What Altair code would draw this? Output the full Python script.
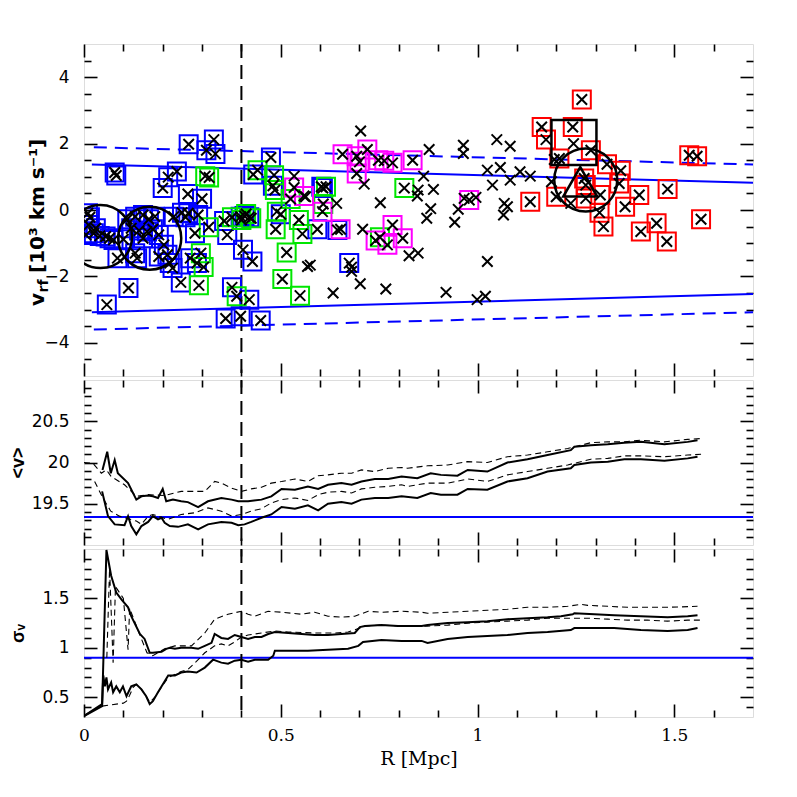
import altair as alt
import pandas as pd

# ---------------- top panel: galaxies (R [Mpc], v_rf [10^3 km/s]) ----------------
blue_pts = [(0.266, 1.98), (0.330, 2.12), (0.311, 1.80), (0.334, 1.69), (0.078, 1.13), (0.082, 1.04),
            (0.236, 1.16), (0.214, 0.99), (0.200, 0.66), (0.264, 0.48), (0.300, 0.34), (0.249, -0.08),
            (0.228, -0.20), (0.258, -0.22), (0.282, -0.70), (0.356, -0.33), (0.364, -0.75), (0.113, -2.35),
            (0.058, -2.85), (0.246, -2.18), (0.376, -2.33), (0.360, -3.27), (0.398, -3.20), (0.420, -2.70),
            (0.449, -3.33), (0.404, -1.20), (0.428, -1.55), (0.475, 1.58), (0.430, 1.07), (0.480, 0.73),
            (0.603, 0.70), (0.607, 0.66), (0.408, -0.18), (0.420, -0.22), (0.398, -0.20), (0.500, -0.13),
            (0.593, -0.58), (0.644, -0.60), (0.674, -1.60), (0.287, -1.60), (0.270, -1.45), (0.010, -0.10),
            (0.015, -0.22), (0.012, -0.45), (0.025, -0.70), (0.040, -0.78), (0.055, -0.80), (0.030, -0.55),
            (0.065, -0.85), (0.075, -0.90), (0.005, -0.75), (0.085, -1.45), (0.110, -0.28), (0.130, -0.20),
            (0.150, -0.15), (0.165, -0.28), (0.180, -0.20), (0.120, -0.55), (0.140, -0.62), (0.160, -0.65),
            (0.175, -0.58), (0.150, -0.85), (0.190, -0.75), (0.130, -1.30), (0.135, -1.45), (0.203, -1.05),
            (0.190, -1.40), (0.212, -1.35), (0.218, -1.60), (0.225, -1.75), (0.100, -0.88), (0.265, -0.10),
            (0.290, -0.15)]
green_pts = [(0.308, 1.02), (0.318, 0.98), (0.441, 1.20), (0.483, 1.05), (0.485, 0.60), (0.615, 0.70),
             (0.608, 0.18), (0.525, 0.33), (0.490, -0.05), (0.546, -0.30), (0.487, -0.58), (0.555, -0.72),
             (0.515, -1.28), (0.504, -2.08), (0.549, -2.58), (0.388, -2.60), (0.292, -2.27), (0.304, -1.72),
             (0.297, -1.30), (0.317, -0.52), (0.376, -0.22), (0.412, -0.12), (0.425, -0.25), (0.752, -0.82),
             (0.814, 0.66), (0.400, -0.30)]
magenta_pts = [(0.657, 1.68), (0.693, 1.62), (0.720, 1.82), (0.693, 1.10), (0.748, 1.50), (0.763, 1.48),
               (0.784, 1.42), (0.835, 1.50), (0.534, 0.68), (0.559, 0.42), (0.606, -0.05), (0.652, -0.58),
               (0.784, -0.45), (0.741, -0.92), (0.771, -1.05), (0.810, -0.85), (0.979, 0.30), (0.700, 1.45)]
red_pts = [(1.163, 2.50), (1.174, 2.12), (1.242, 2.50), (1.265, 3.33), (1.288, 1.80), (1.208, 1.55),
           (1.329, 1.38), (1.364, 1.18), (1.360, 0.80), (1.271, 0.95), (1.275, 0.75), (1.200, 0.40),
           (1.275, 0.35), (1.312, 0.45), (1.310, -0.08), (1.320, -0.50), (1.375, 0.10), (1.411, 0.45),
           (1.483, 0.63), (1.455, -0.40), (1.415, -0.65), (1.481, -0.95), (1.538, 1.65), (1.558, 1.62),
           (1.568, -0.28), (1.134, 0.25)]
black_pts = [(0.534, 1.02), (0.563, 0.40), (0.642, 0.20), (0.703, 2.38), (0.712, 0.78), (0.753, 0.22),
             (0.708, -0.58), (0.568, -1.70), (0.575, -1.66), (0.680, -1.85), (0.702, -2.22), (0.767, -2.38),
             (0.633, -2.50), (0.826, -1.38), (0.849, -1.30), (0.877, 1.82), (0.964, 1.95), (0.964, 1.70),
             (1.049, 2.12), (1.083, 1.92), (1.025, 1.20), (1.058, 1.28), (1.038, 0.75), (1.083, 0.90),
             (1.108, 1.15), (1.134, 1.02), (1.188, 0.85), (0.863, 1.02), (0.849, 0.60), (0.847, 0.42),
             (0.888, 0.62), (0.881, 0.04), (0.871, -0.25), (0.942, -0.37), (0.951, 0.02), (0.966, 0.35),
             (0.996, 0.38), (1.068, 0.20), (1.076, 0.10), (1.066, -0.15), (1.025, -1.55), (0.920, -2.48),
             (0.999, -2.70), (1.020, -2.60), (1.244, 2.00), (1.237, 0.20), (1.195, 1.52), (0.680, -1.72)]

circle_pts = [(0.042, -0.80), (0.167, -0.85), (1.275, 0.90)]
bigsquare_pts = [(1.245, 2.03)]
triangle_pts = [(1.261, 0.85)]

# blue envelope lines (R, v)
env_solid_up = [(0.02, 1.37), (1.70, 0.82)]
env_solid_lo = [(0.02, -3.08), (1.70, -2.53)]
env_dash_up = [(0.025, 1.89), (1.70, 1.37)]
env_dash_lo = [(0.025, -3.60), (1.70, -3.08)]

R_CUT = [0.4]
MEAN_REF = [19.34]
SIGMA_REF = [0.90]

# ---------------- middle panel: cumulative <v> ----------------
mean_hi = [(0.047, 19.91), (0.059, 20.13), (0.068, 19.87), (0.078, 20.03), (0.086, 19.87), (0.112, 19.75),
           (0.133, 19.55), (0.146, 19.59), (0.163, 19.60), (0.175, 19.59), (0.188, 19.57), (0.200, 19.68),
           (0.209, 19.53), (0.226, 19.55), (0.247, 19.53), (0.264, 19.52), (0.290, 19.46), (0.315, 19.53),
           (0.349, 19.57), (0.375, 19.55), (0.392, 19.53), (0.417, 19.53), (0.451, 19.55), (0.476, 19.59),
           (0.502, 19.68), (0.536, 19.67), (0.569, 19.71), (0.595, 19.68), (0.620, 19.73), (0.654, 19.75),
           (0.680, 19.73), (0.705, 19.77), (0.739, 19.80), (0.773, 19.80), (0.807, 19.83), (0.847, 19.81),
           (0.881, 19.87), (0.907, 19.85), (0.949, 19.84), (0.975, 19.91), (1.025, 19.89), (1.076, 20.00),
           (1.127, 20.04), (1.178, 20.09), (1.237, 20.15), (1.246, 20.19), (1.288, 20.21), (1.331, 20.22),
           (1.373, 20.24), (1.415, 20.25), (1.475, 20.22), (1.534, 20.25), (1.559, 20.27)]
mean_lo = [(0.046, 19.65), (0.061, 19.35), (0.078, 19.25), (0.103, 19.24), (0.112, 19.35), (0.120, 19.23),
           (0.133, 19.13), (0.146, 19.23), (0.163, 19.28), (0.175, 19.35), (0.188, 19.31), (0.197, 19.33),
           (0.205, 19.27), (0.218, 19.23), (0.239, 19.22), (0.264, 19.25), (0.290, 19.19), (0.315, 19.25),
           (0.349, 19.28), (0.375, 19.27), (0.392, 19.24), (0.408, 19.25), (0.425, 19.28), (0.451, 19.33),
           (0.476, 19.37), (0.502, 19.46), (0.536, 19.44), (0.569, 19.48), (0.595, 19.42), (0.620, 19.50),
           (0.654, 19.52), (0.680, 19.50), (0.705, 19.55), (0.739, 19.57), (0.773, 19.57), (0.807, 19.59),
           (0.847, 19.57), (0.881, 19.63), (0.907, 19.61), (0.949, 19.61), (0.975, 19.68), (1.025, 19.67),
           (1.076, 19.77), (1.127, 19.81), (1.178, 19.89), (1.237, 19.93), (1.246, 19.97), (1.288, 20.00),
           (1.331, 20.01), (1.373, 20.04), (1.415, 20.04), (1.475, 20.02), (1.534, 20.05), (1.559, 20.07)]
mean_dhi = [(0.000, 20.00), (0.023, 19.99), (0.044, 19.87), (0.057, 19.91), (0.069, 19.83), (0.103, 19.73),
            (0.133, 19.59), (0.163, 19.61), (0.205, 19.60), (0.247, 19.65), (0.273, 19.65), (0.307, 19.65),
            (0.332, 19.77), (0.349, 19.75), (0.375, 19.69), (0.400, 19.65), (0.425, 19.68), (0.451, 19.70),
            (0.476, 19.75), (0.502, 19.77), (0.536, 19.80), (0.569, 19.77), (0.595, 19.84), (0.620, 19.85),
            (0.654, 19.87), (0.680, 19.87), (0.705, 19.91), (0.739, 19.89), (0.773, 19.93), (0.807, 19.94),
            (0.822, 19.93), (0.873, 19.96), (0.924, 19.97), (0.975, 20.01), (1.025, 20.00), (1.076, 20.07),
            (1.127, 20.09), (1.178, 20.13), (1.229, 20.17), (1.288, 20.24), (1.331, 20.25), (1.373, 20.25),
            (1.415, 20.27), (1.475, 20.25), (1.534, 20.28), (1.568, 20.29)]
mean_dlo = [(0.027, 19.77), (0.048, 19.57), (0.068, 19.41), (0.090, 19.35), (0.133, 19.29), (0.146, 19.25),
            (0.163, 19.35), (0.175, 19.37), (0.213, 19.31), (0.247, 19.37), (0.281, 19.39), (0.315, 19.45),
            (0.349, 19.41), (0.375, 19.35), (0.400, 19.37), (0.425, 19.41), (0.451, 19.44), (0.476, 19.51),
            (0.502, 19.55), (0.536, 19.57), (0.569, 19.54), (0.595, 19.61), (0.620, 19.64), (0.654, 19.65),
            (0.680, 19.63), (0.705, 19.68), (0.739, 19.70), (0.773, 19.71), (0.807, 19.73), (0.822, 19.71),
            (0.873, 19.75), (0.924, 19.75), (0.975, 19.80), (1.025, 19.77), (1.076, 19.85), (1.127, 19.89),
            (1.178, 19.93), (1.229, 19.97), (1.288, 20.04), (1.331, 20.05), (1.373, 20.08), (1.415, 20.08),
            (1.475, 20.07), (1.534, 20.09), (1.568, 20.10)]

# ---------------- bottom panel: cumulative sigma_v ----------------
sig_hi = [(0.000, 0.31), (0.046, 0.41), (0.057, 1.99), (0.069, 1.73), (0.082, 1.56), (0.095, 1.49),
          (0.112, 1.41), (0.120, 1.32), (0.142, 1.14), (0.154, 1.09), (0.167, 0.95), (0.175, 0.95),
          (0.197, 0.96), (0.209, 0.99), (0.218, 1.00), (0.231, 0.99), (0.247, 1.00), (0.273, 1.00),
          (0.290, 0.99), (0.307, 1.02), (0.324, 1.05), (0.332, 1.14), (0.349, 1.10), (0.366, 1.09),
          (0.383, 1.13), (0.400, 1.11), (0.417, 1.09), (0.434, 1.11), (0.451, 1.11), (0.468, 1.14),
          (0.485, 1.16), (0.519, 1.15), (0.553, 1.14), (0.586, 1.13), (0.620, 1.13), (0.654, 1.14),
          (0.688, 1.15), (0.701, 1.21), (0.714, 1.22), (0.756, 1.23), (0.798, 1.22), (0.858, 1.22),
          (0.873, 1.23), (0.924, 1.25), (0.975, 1.26), (1.025, 1.27), (1.076, 1.29), (1.127, 1.30),
          (1.178, 1.31), (1.212, 1.32), (1.242, 1.34), (1.246, 1.35), (1.297, 1.34), (1.347, 1.33),
          (1.415, 1.32), (1.483, 1.31), (1.534, 1.32), (1.559, 1.33)]
sig_lo = [(0.000, 0.31), (0.046, 0.43), (0.049, 0.72), (0.053, 0.61), (0.057, 0.70), (0.061, 0.58),
          (0.069, 0.65), (0.074, 0.55), (0.082, 0.61), (0.091, 0.55), (0.099, 0.61), (0.108, 0.51),
          (0.120, 0.61), (0.133, 0.63), (0.146, 0.58), (0.158, 0.51), (0.167, 0.43), (0.175, 0.46),
          (0.188, 0.55), (0.200, 0.63), (0.214, 0.72), (0.231, 0.72), (0.247, 0.75), (0.264, 0.76),
          (0.286, 0.75), (0.307, 0.80), (0.328, 0.88), (0.349, 0.85), (0.366, 0.84), (0.383, 0.87),
          (0.400, 0.88), (0.417, 0.86), (0.434, 0.88), (0.468, 0.88), (0.481, 0.92), (0.485, 0.97),
          (0.519, 0.97), (0.569, 0.97), (0.620, 0.98), (0.671, 0.99), (0.697, 1.02), (0.709, 1.06),
          (0.756, 1.08), (0.807, 1.07), (0.858, 1.07), (0.873, 1.05), (0.924, 1.09), (0.975, 1.11),
          (1.025, 1.12), (1.076, 1.13), (1.127, 1.15), (1.178, 1.16), (1.237, 1.18), (1.246, 1.20),
          (1.297, 1.20), (1.347, 1.20), (1.415, 1.18), (1.483, 1.17), (1.534, 1.18), (1.559, 1.20)]
sig_dhi = [(0.058, 0.90), (0.065, 1.80), (0.074, 0.85), (0.080, 1.62), (0.100, 1.50), (0.112, 0.98),
           (0.116, 1.40), (0.140, 1.15), (0.160, 0.95), (0.175, 0.92), (0.205, 0.99), (0.231, 1.02),
           (0.273, 1.02), (0.307, 1.15), (0.332, 1.29), (0.366, 1.34), (0.400, 1.37), (0.417, 1.34),
           (0.434, 1.32), (0.468, 1.37), (0.502, 1.36), (0.553, 1.34), (0.586, 1.36), (0.620, 1.32),
           (0.654, 1.31), (0.688, 1.32), (0.722, 1.37), (0.756, 1.36), (0.807, 1.37), (0.858, 1.36),
           (0.873, 1.35), (0.924, 1.36), (0.975, 1.37), (1.025, 1.38), (1.076, 1.39), (1.127, 1.41),
           (1.178, 1.41), (1.229, 1.42), (1.263, 1.44), (1.280, 1.43), (1.331, 1.42), (1.381, 1.41),
           (1.432, 1.41), (1.483, 1.41), (1.559, 1.42)]
sig_dlo = [(0.046, 0.41), (0.100, 0.44), (0.108, 0.46), (0.116, 0.52), (0.125, 0.60), (0.133, 0.63),
           (0.146, 0.58), (0.158, 0.51), (0.167, 0.45), (0.180, 0.50), (0.200, 0.62), (0.214, 0.70),
           (0.247, 0.76), (0.264, 0.78), (0.290, 0.88), (0.307, 0.95), (0.332, 1.02), (0.349, 1.04),
           (0.366, 1.02), (0.383, 1.06), (0.400, 1.11), (0.417, 1.13), (0.451, 1.15), (0.485, 1.17),
           (0.519, 1.16), (0.586, 1.15), (0.637, 1.15), (0.671, 1.16), (0.701, 1.20), (0.714, 1.22),
           (0.756, 1.23), (0.807, 1.22), (0.858, 1.22), (0.873, 1.22), (0.924, 1.23), (0.975, 1.25),
           (1.025, 1.26), (1.076, 1.27), (1.127, 1.28), (1.178, 1.30), (1.229, 1.30), (1.280, 1.30),
           (1.331, 1.29), (1.381, 1.28), (1.432, 1.28), (1.483, 1.27), (1.534, 1.28), (1.568, 1.28)]

# ---------------- ticks ----------------
x_major = [0, 0.5, 1, 1.5]
x_minor = [0.1, 0.2, 0.3, 0.4, 0.6, 0.7, 0.8, 0.9, 1.1, 1.2, 1.3, 1.4, 1.6]
top_major = [-4, -2, 0, 2, 4]
top_minor = [-4.5, -3.5, -3, -2.5, -1.5, -1, -0.5, 0.5, 1, 1.5, 2.5, 3, 3.5, 4.5]
mid_major = [19.5, 20, 20.5]
mid_minor = [19.1, 19.2, 19.3, 19.4, 19.6, 19.7, 19.8, 19.9, 20.1, 20.2, 20.3, 20.4, 20.6, 20.7, 20.8, 20.9]
bot_major = [0.5, 1, 1.5]
bot_minor = [0.4, 0.6, 0.7, 0.8, 0.9, 1.1, 1.2, 1.3, 1.4, 1.6, 1.7, 1.8, 1.9]

grp_names = ["blue", "green", "magenta", "red"]
grp_colors = ["#0000ff", "#00e600", "#ff00ff", "#ff0000"]

# ---------------- helpers ----------------
W = 669
H_TOP, H_MID, H_BOT = 332, 165, 168
XS = alt.Scale(domain=[0, 1.7], nice=False, zero=False)
TOP_DOM = [-5, 5]
MID_DOM = [19.0, 21.0]
BOT_DOM = [0.3, 2.0]
SHAPE_X = "M-1,-1L1,1M-1,1L1,-1"


def ysc(dom):
    return alt.Scale(domain=dom, nice=False, zero=False)


def df_of(pairs, **extra):
    df = pd.DataFrame(pairs, columns=["R", "y"])
    df["i"] = range(len(df))
    for k, val in extra.items():
        df[k] = val
    return df


def axis_layers(dom, ymaj, ymin, xlabels, ytitle, h):
    # invisible carrier placed in the middle of the panel (keeps bounds inside the frame)
    dummy = pd.DataFrame({"R": [0.85], "y": [(dom[0] + dom[1]) / 2]})
    out = []
    for xo, yo, maj in [("bottom", "left", True), ("bottom", "left", False),
                        ("top", "right", True), ("top", "right", False)]:
        ts = 13 if maj else 7
        xlab = xlabels and maj and xo == "bottom"
        ylab = maj and yo == "left"
        xkw = dict(orient=xo, values=x_major if maj else x_minor, tickSize=ts, offset=-ts,
                   domain=False, grid=False, labels=xlab, tickColor="black", tickWidth=1.6,
                   format="~g", labelFlush=False, labelOverlap=False, labelFont="DejaVu Serif",
                   labelFontSize=17, labelColor="black", labelPadding=10)
        if xlab:
            xkw.update(title="R [Mpc]", titleFont="DejaVu Serif", titleFontSize=19,
                       titleFontWeight="normal", titlePadding=6, titleColor="black")
        else:
            xkw["title"] = None
        ykw = dict(orient=yo, values=ymaj if maj else ymin, tickSize=ts, offset=-ts,
                   domain=False, grid=False, labels=ylab, tickColor="black", tickWidth=1.6,
                   format="~g", labelFlush=False, labelOverlap=False, labelFont="DejaVu Sans",
                   labelFontSize=17, labelColor="black", labelPadding=15)
        if ylab and ytitle:
            ykw.update(title=ytitle, titleX=-79, titleY=h / 2, titleAngle=270, titleAlign="center",
                       titleBaseline="middle", titleFont="Liberation Sans", titleFontSize=18,
                       titleFontWeight="bold", titleColor="black")
        else:
            ykw["title"] = None
        out.append(alt.Chart(dummy).mark_point(opacity=0, size=1).encode(
            x=alt.X("R:Q", scale=XS, axis=alt.Axis(**xkw)),
            y=alt.Y("y:Q", scale=ysc(dom), axis=alt.Axis(**ykw))))
    return out


def enc_xy(dom):
    return dict(x=alt.X("R:Q", scale=XS, axis=None), y=alt.Y("y:Q", scale=ysc(dom), axis=None))


def vcut_layer():
    return alt.Chart(pd.DataFrame({"R": R_CUT})).mark_rule(
        color="black", strokeWidth=2, strokeDash=[14, 7]).encode(
        x=alt.X("R:Q", scale=XS, axis=None))


def href_layer(vals, dom):
    return alt.Chart(pd.DataFrame({"y": vals})).mark_rule(color="#0000ff", strokeWidth=2).encode(
        y=alt.Y("y:Q", scale=ysc(dom), axis=None))


# ---------------- top panel ----------------
env_df = pd.concat([df_of(env_solid_up, c="su", d="s"), df_of(env_solid_lo, c="sl", d="s"),
                    df_of(env_dash_up, c="du", d="d"), df_of(env_dash_lo, c="dl", d="d")])
sq_df = pd.concat([df_of(blue_pts, g="blue"), df_of(green_pts, g="green"),
                   df_of(magenta_pts, g="magenta"), df_of(red_pts, g="red")])
all_df = pd.concat([sq_df, df_of(black_pts, g="none")])

top_layers = [
    alt.Chart(env_df[env_df.d == "s"]).mark_line(color="#0000ff", strokeWidth=2).encode(
        detail="c:N", order="i:Q", **enc_xy(TOP_DOM)),
    alt.Chart(env_df[env_df.d == "d"]).mark_line(color="#0000ff", strokeWidth=2, strokeDash=[13, 8]).encode(
        detail="c:N", order="i:Q", **enc_xy(TOP_DOM)),
    vcut_layer(),
    alt.Chart(sq_df).mark_point(shape="square", filled=False, size=324, strokeWidth=2, opacity=1,
                                clip=True).encode(
        color=alt.Color("g:N", scale=alt.Scale(domain=grp_names, range=grp_colors), legend=None),
        **enc_xy(TOP_DOM)),
    alt.Chart(all_df).mark_point(shape=SHAPE_X, filled=False, size=110, strokeWidth=2, opacity=1,
                                 color="black", clip=True).encode(**enc_xy(TOP_DOM)),
    alt.Chart(df_of(circle_pts)).mark_point(shape="circle", filled=False, size=3969, strokeWidth=2.5,
                                            opacity=1, color="black", clip=True).encode(**enc_xy(TOP_DOM)),
    alt.Chart(df_of(bigsquare_pts)).mark_point(shape="square", filled=False, size=2025, strokeWidth=2.5,
                                               opacity=1, color="black", clip=True).encode(**enc_xy(TOP_DOM)),
    alt.Chart(df_of(triangle_pts)).mark_point(shape="triangle-up", filled=False, size=1156, strokeWidth=2.5,
                                              opacity=1, color="black", clip=True).encode(**enc_xy(TOP_DOM)),
]

# y title of the top panel, built from pieces so that "rf" is a subscript
title_main = ["v"]
title_sub = ["rf"]
title_rest = ["[10³ km s⁻¹]"]
TFONT = dict(angle=270, align="left", baseline="middle", font="DejaVu Sans", fontWeight="bold", color="black")
top_layers += [
    alt.Chart(pd.DataFrame({"t": title_main})).mark_text(fontSize=20, **TFONT).encode(
        text="t:N", x=alt.value(-46), y=alt.value(262)),
    alt.Chart(pd.DataFrame({"t": title_sub})).mark_text(fontSize=14, **TFONT).encode(
        text="t:N", x=alt.value(-40), y=alt.value(248.5)),
    alt.Chart(pd.DataFrame({"t": title_rest})).mark_text(fontSize=20, **TFONT).encode(
        text="t:N", x=alt.value(-46), y=alt.value(229)),
]

top = alt.layer(*top_layers, *axis_layers(TOP_DOM, top_major, top_minor, False, None, H_TOP)).resolve_axis(
    x="independent", y="independent").properties(width=W, height=H_TOP)

# ---------------- middle panel ----------------
mean_solid = pd.concat([df_of(mean_hi, c="hi"), df_of(mean_lo, c="lo")])
mean_dash = pd.concat([df_of(mean_dhi, c="dhi"), df_of(mean_dlo, c="dlo")])
mid_layers = [
    href_layer(MEAN_REF, MID_DOM),
    vcut_layer(),
    alt.Chart(mean_dash).mark_line(color="black", strokeWidth=1.1, strokeDash=[6, 4], clip=True).encode(
        detail="c:N", order="i:Q", **enc_xy(MID_DOM)),
    alt.Chart(mean_solid).mark_line(color="black", strokeWidth=2, clip=True).encode(
        detail="c:N", order="i:Q", **enc_xy(MID_DOM)),
]
mid = alt.layer(*mid_layers, *axis_layers(MID_DOM, mid_major, mid_minor, False, "<v>", H_MID)).resolve_axis(
    x="independent", y="independent").properties(width=W, height=H_MID)

# ---------------- bottom panel ----------------
sig_solid = pd.concat([df_of(sig_hi, c="hi"), df_of(sig_lo, c="lo")])
sig_dash = pd.concat([df_of(sig_dhi, c="dhi"), df_of(sig_dlo, c="dlo")])
bot_layers = [
    href_layer(SIGMA_REF, BOT_DOM),
    vcut_layer(),
    alt.Chart(sig_dash).mark_line(color="black", strokeWidth=1.1, strokeDash=[6, 4], clip=True).encode(
        detail="c:N", order="i:Q", **enc_xy(BOT_DOM)),
    alt.Chart(sig_solid).mark_line(color="black", strokeWidth=2, clip=True).encode(
        detail="c:N", order="i:Q", **enc_xy(BOT_DOM)),
]
bot = alt.layer(*bot_layers, *axis_layers(BOT_DOM, bot_major, bot_minor, True, "σᵥ", H_BOT)).resolve_axis(
    x="independent", y="independent").properties(width=W, height=H_BOT)

chart = alt.vconcat(top, mid, bot, spacing=0).properties(
    padding={"left": 0, "top": 34, "right": 10, "bottom": 10}
).configure_view(stroke="black", strokeWidth=2).configure(background="white")

chart.save("out.html", embed_options={"renderer": "svg", "actions": False})
